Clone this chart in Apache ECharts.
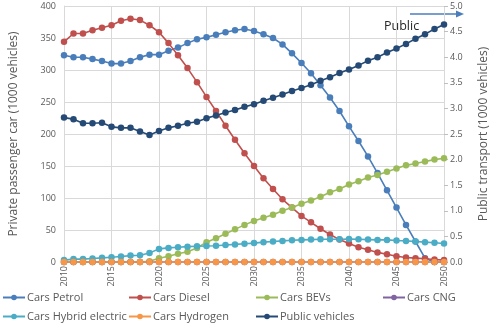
<!DOCTYPE html>
<html>
<head>
<meta charset="utf-8">
<script src="https://cdn.jsdelivr.net/npm/echarts@6/dist/echarts.min.js"></script>
<style>
  html, body { margin: 0; padding: 0; background: #fff; }
  #chart { width: 498px; height: 323px; }
</style>
</head>
<body>
<div id="chart"></div>
<script>
// Vehicle fleet projection, 2010-2050
const years = [];
for (let y = 2010; y <= 2050; y++) years.push(y);

// Private passenger cars (1000 vehicles), left axis
const carsPetrol = [323, 320, 320, 317, 314, 310, 310, 314, 320, 324, 324, 330, 335, 342, 348, 351, 355, 359, 362, 364, 361, 356, 350, 340, 326, 311, 295, 276, 257, 236, 212, 189, 165, 139, 112, 85, 58, 32, 6, 0, 0];
const carsDiesel = [344, 357, 357, 362, 366, 370, 377, 380, 378, 370, 359, 342, 323, 303, 281, 258, 236, 213, 191, 170, 150, 131, 114, 98, 85, 72, 62, 52, 43, 35, 29, 23, 19, 15, 12, 9, 7, 6, 5, 4, 3];
const carsBEVs = [0, 0, 0, 0, 0, 0, 0, 0, 0, 1, 6, 9, 13, 16, 22, 31, 37, 44, 51, 58, 64, 69, 74, 80, 85, 91, 96, 102, 109, 114, 121, 126, 132, 136, 141, 146, 151, 154, 157, 160, 162];
const carsCNG = [0, 0, 0, 0, 0, 0, 0, 0, 0, 0, 0, 0, 0, 0, 0, 0, 0, 0, 0, 0, 0, 0, 0, 0, 0, 0, 0, 0, 0, 0, 0, 0, 0, 0, 0, 0, 0, 0, 0, 0, 0];
const carsHybrid = [3, 4.5, 4.5, 5.5, 6.5, 7.5, 8.5, 10, 10.5, 14, 20.5, 22, 23, 24, 24.5, 25, 25.5, 26.5, 27.5, 28.5, 29.5, 31, 32, 33, 34, 34.5, 35, 35.5, 35.5, 35.5, 36, 35.5, 35, 34.5, 34.5, 33.5, 33, 32, 31, 30, 29];
const carsHydrogen = [0, 0, 0, 0, 0, 0, 0, 0, 0, 0, 0, 0, 0, 0, 0, 0, 0, 0, 0, 0, 0, 0, 0, 0, 0, 0, 0, 0, 0, 0, 0, 0, 0, 0, 0, 0, 0, 0, 0, 0, 0];

// Public transport (1000 vehicles), right axis
const publicVehicles = [2.82, 2.79, 2.71, 2.71, 2.72, 2.64, 2.62, 2.62, 2.55, 2.48, 2.56, 2.62, 2.66, 2.71, 2.74, 2.81, 2.86, 2.92, 2.97, 3.03, 3.08, 3.15, 3.21, 3.27, 3.34, 3.40, 3.46, 3.54, 3.61, 3.69, 3.76, 3.84, 3.93, 4.00, 4.09, 4.17, 4.26, 4.36, 4.45, 4.55, 4.64];

const yearTicks = [2010, 2015, 2020, 2025, 2030, 2035, 2040, 2045, 2050];

const pair = arr => years.map((y, i) => [y, arr[i]]);

const textColor = '#595959';
const gridColor = '#d9d9d9';
const font = '"Open Sans", "Noto Sans", sans-serif';

function lineSeries(name, arr, color, yAxisIndex) {
  return {
    name: name,
    type: 'line',
    yAxisIndex: yAxisIndex,
    data: pair(arr),
    symbol: 'circle',
    symbolSize: 6.5,
    lineStyle: { color: color, width: 1.6 },
    itemStyle: { color: color },
    emphasis: { disabled: true },
    animation: false
  };
}

// One legend entry per box, laid out in four columns and two rows
function legendItem(name, left, top) {
  return {
    left: left,
    top: top,
    padding: 0,
    itemWidth: 22,
    itemHeight: 7,
    textStyle: { color: textColor, fontSize: 11, fontFamily: font, padding: [0, 0, 0, -3] },
    selectedMode: false,
    data: [name]
  };
}

const chart = echarts.init(document.getElementById('chart'), null, { renderer: 'canvas' });
chart.setOption({
  backgroundColor: '#ffffff',
  animation: false,
  grid: { left: 62, right: 47, top: 6, bottom: 61, containLabel: false },
  legend: [
    legendItem('Cars Petrol', 2, 292),
    legendItem('Cars Diesel', 128, 292),
    legendItem('Cars BEVs', 255, 292),
    legendItem('Cars CNG', 382, 292),
    legendItem('Cars Hybrid electric', 2, 311),
    legendItem('Cars Hydrogen', 128, 311),
    legendItem('Public vehicles', 255, 311)
  ],
  xAxis: {
    type: 'value',
    min: 2010,
    max: 2050,
    interval: 5,
    axisLine: { show: false },
    axisTick: { show: false },
    splitLine: { show: true, lineStyle: { color: gridColor, width: 1 } },
    axisLabel: {
      rotate: 90,
      color: textColor,
      fontSize: 9,
      fontFamily: font,
      margin: 4,
      customValues: yearTicks,
      formatter: v => String(v)
    }
  },
  yAxis: [
    {
      type: 'value',
      min: 0,
      max: 400,
      interval: 50,
      name: 'Private passenger car (1000 vehicles)',
      nameLocation: 'middle',
      nameGap: 44,
      nameTextStyle: { color: textColor, fontSize: 12, fontFamily: font },
      axisLine: { show: true, lineStyle: { color: gridColor } },
      axisTick: { show: false },
      splitLine: { show: true, lineStyle: { color: gridColor, width: 1 } },
      axisLabel: { color: textColor, fontSize: 9, fontFamily: font, margin: 8 }
    },
    {
      type: 'value',
      min: 0,
      max: 5,
      interval: 0.5,
      position: 'right',
      name: 'Public transport (1000 vehicles)',
      nameLocation: 'middle',
      nameGap: 34,
      nameTextStyle: { color: textColor, fontSize: 12, fontFamily: font },
      axisLine: { show: false },
      axisTick: { show: true, length: 4, lineStyle: { color: '#bfbfbf' } },
      splitLine: { show: false },
      axisLabel: { color: textColor, fontSize: 9, fontFamily: font, margin: 6, formatter: v => v.toFixed(1) }
    }
  ],
  series: [
    lineSeries('Cars Petrol', carsPetrol, '#4a7ebb', 0),
    lineSeries('Cars Diesel', carsDiesel, '#c0504d', 0),
    lineSeries('Cars BEVs', carsBEVs, '#9bbb59', 0),
    lineSeries('Cars CNG', carsCNG, '#8064a2', 0),
    lineSeries('Cars Hybrid electric', carsHybrid, '#4bacc6', 0),
    lineSeries('Cars Hydrogen', carsHydrogen, '#f79646', 0),
    lineSeries('Public vehicles', publicVehicles, '#254a75', 1)
  ],
  graphic: [
    {
      type: 'line',
      shape: { x1: 410, y1: 14, x2: 457, y2: 14 },
      style: { stroke: '#4a7ebb', lineWidth: 1.3 }
    },
    {
      type: 'polygon',
      shape: { points: [[456, 10.5], [464, 14], [456, 17.5]] },
      style: { fill: '#4a7ebb' }
    },
    {
      type: 'text',
      left: 384,
      top: 20,
      style: { text: 'Public', fill: '#262626', font: '12.5px "Open Sans", "Noto Sans", sans-serif' }
    }
  ]
});
</script>
</body>
</html>
